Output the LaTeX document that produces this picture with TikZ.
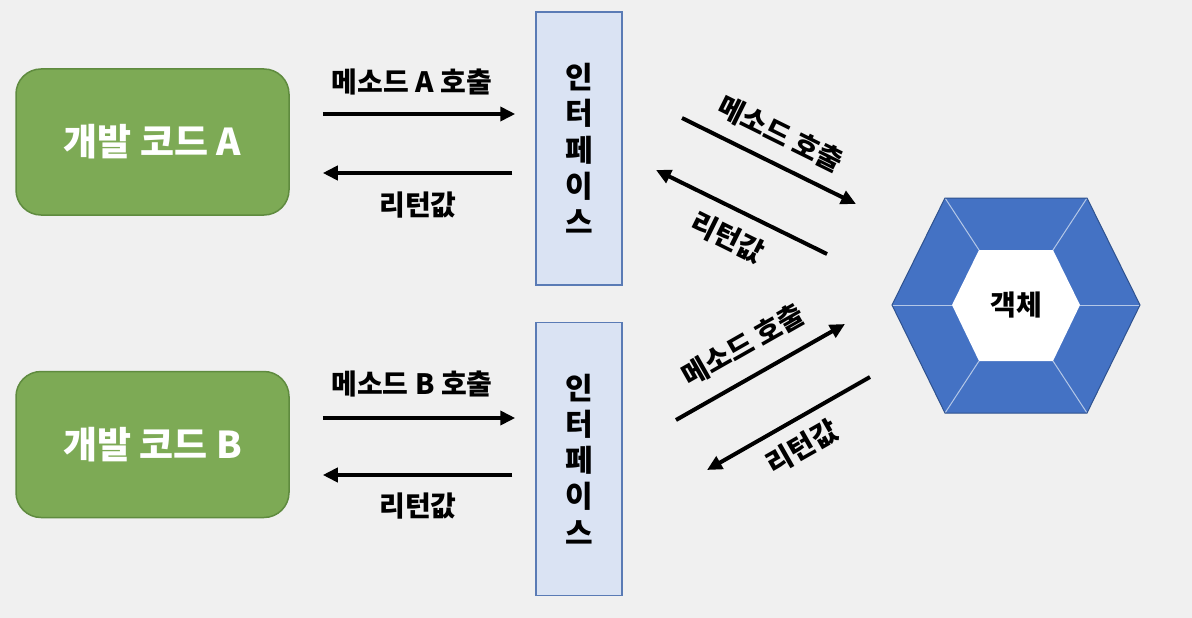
\documentclass[tikz,border=0pt]{standalone}
\usepackage{fontspec}
\setmainfont{Noto Sans CJK KR}
\usetikzlibrary{arrows.meta,calc}
\definecolor{bg}{HTML}{F0F0F0}
\definecolor{gfill}{HTML}{7DAA55}
\definecolor{gline}{HTML}{5F8B3F}
\definecolor{ifill}{HTML}{DAE3F3}
\definecolor{iline}{HTML}{5A7BB5}
\definecolor{hblue}{HTML}{4472C4}
\definecolor{hdark}{HTML}{2F528F}
\definecolor{hlight}{HTML}{B4C7E7}
\tikzset{
  devbox/.style={draw=gline, line width=1.5pt, fill=gfill, rounded corners=25pt,
    minimum width=273pt, minimum height=146pt, text=white,
    font=\fontsize{37}{42}\selectfont\bfseries},
  ifbox/.style={draw=iline, line width=1.5pt, fill=ifill,
    minimum width=86pt, minimum height=273pt, align=center,
    font=\fontsize{30}{36.25}\selectfont\bfseries},
  arr/.style={line width=4pt, -{Triangle[length=15pt,width=14pt]}},
  lbl/.style={font=\fontsize{28}{32}\selectfont\bfseries, inner sep=0pt},
}
\begin{document}
\begin{tikzpicture}[x=1pt,y=-1pt]
\fill[bg] (0,0) rectangle (1192,618);
\useasboundingbox (0,0) rectangle (1192,618);

% developer code boxes
\node[devbox] (devA) at (152.5,142) {개발 코드 A};
\node[devbox] (devB) at (152.5,444.5) {개발 코드 B};

% interface boxes
\node[ifbox] (ifA) at (579,148.5) {인\\터\\페\\이\\스};
\node[ifbox] (ifB) at (579,459) {인\\터\\페\\이\\스};

% y-levels
\coordinate (yA1) at (0,114);
\coordinate (yA2) at (0,173);
\coordinate (yB1) at (0,418);
\coordinate (yB2) at (0,475);

% left arrows
\draw[arr, shorten <=33pt, shorten >=20pt] (devA.east |- yA1) -- (ifA.west |- yA1);
\draw[arr, shorten <=23pt, shorten >=33pt] (ifA.west |- yA2) -- (devA.east |- yA2);
\draw[arr, shorten <=33pt, shorten >=20pt] (devB.east |- yB1) -- (ifB.west |- yB1);
\draw[arr, shorten <=23pt, shorten >=33pt] (ifB.west |- yB2) -- (devB.east |- yB2);

\node[lbl] (tA1) at (412,82) {메소드 A 호출};
\node[lbl] (tA2) at (418,205) {리턴값};
\node[lbl] (tB1) at (412,384) {메소드 B 호출};
\node[lbl] (tB2) at (418,506) {리턴값};

% hexagon (object)
\coordinate (o1) at (892,305);
\coordinate (o2) at (945,198);
\coordinate (o3) at (1087,198);
\coordinate (o4) at (1140,305);
\coordinate (o5) at (1087,413);
\coordinate (o6) at (945,413);
\coordinate (i1) at (952,305);
\coordinate (i2) at (979,250);
\coordinate (i3) at (1053,250);
\coordinate (i4) at (1080,305);
\coordinate (i5) at (1053,361);
\coordinate (i6) at (979,361);
\fill[hblue] (o1) -- (o2) -- (o3) -- (o4) -- (o5) -- (o6) -- cycle;
\foreach \k in {1,...,6} \draw[hlight, line width=1pt] (o\k) -- (i\k);
\fill[white] (i1) -- (i2) -- (i3) -- (i4) -- (i5) -- (i6) -- cycle;
\draw[hdark, line width=1pt] (o1) -- (o2) -- (o3) -- (o4) -- (o5) -- (o6) -- cycle;
\node[font=\fontsize{28}{32}\selectfont\bfseries] (obj) at (1016,305) {객체};

% diagonal arrows
\coordinate (c1s) at (682,118);
\coordinate (c1e) at (856,204);
\coordinate (r1s) at (827,254);
\coordinate (r1e) at (656,170);
\coordinate (c2s) at (676,420);
\coordinate (c2e) at (845,324);
\coordinate (r2s) at (870,377);
\coordinate (r2e) at (707,470);
\draw[arr] (c1s) -- (c1e);
\draw[arr] (r1s) -- (r1e);
\draw[arr] (c2s) -- (c2e);
\draw[arr] (r2s) -- (r2e);

\node[lbl, rotate=-26.3] (t3) at (781,134) {메소드 호출};
\node[lbl, rotate=-26.3] (t4) at (728,237) {리턴값};
\node[lbl, rotate=29.6] (t5) at (743,345) {메소드 호출};
\node[lbl, rotate=29.6] (t6) at (802,447) {리턴값};
\end{tikzpicture}
\end{document}
